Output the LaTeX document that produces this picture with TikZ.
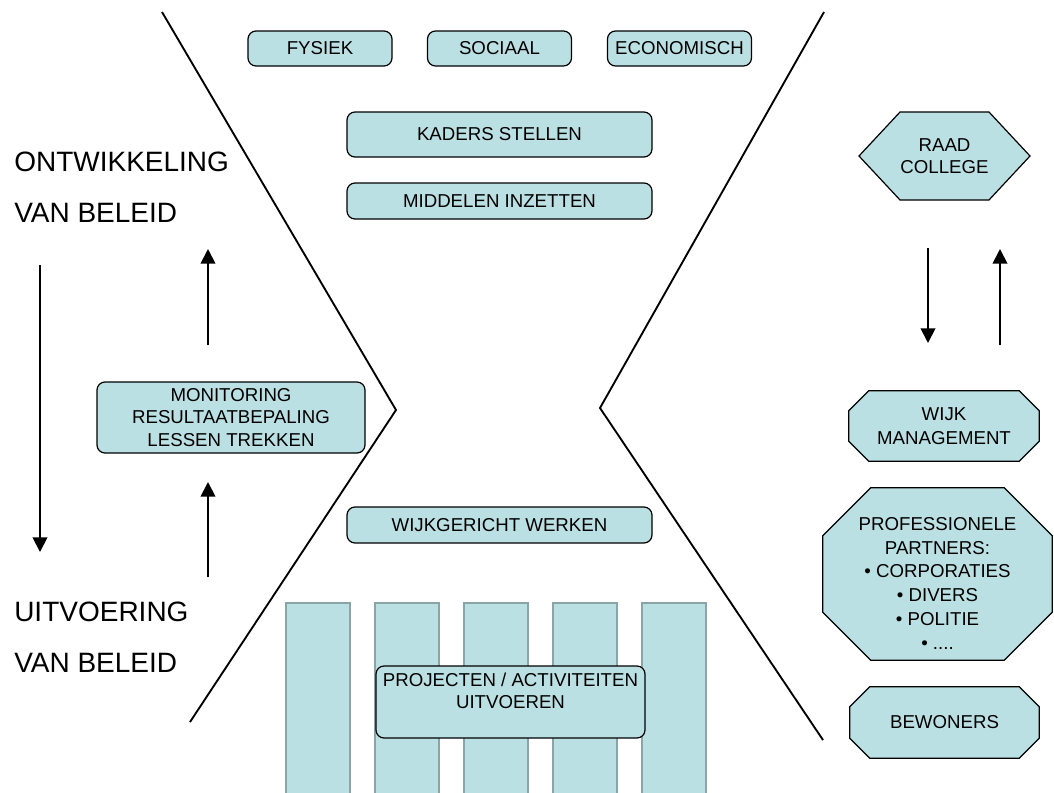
\documentclass[tikz,border=0pt]{standalone}
\usepackage{fontspec}
\setmainfont{Liberation Sans}
\usetikzlibrary{arrows.meta,shapes.symbols,backgrounds}
\definecolor{boxfill}{HTML}{BBE0E3}
\definecolor{colline}{HTML}{8AA4A7}
% achthoek om een node heen
\newcommand\chamfbox[2]{\draw[octline] ([xshift=#2]#1.north west)--([xshift=-#2]#1.north east)--([yshift=-#2]#1.north east)--([yshift=#2]#1.south east)--([xshift=-#2]#1.south east)--([xshift=#2]#1.south west)--([yshift=#2]#1.south west)--([yshift=-#2]#1.north west)--cycle;}
\begin{document}
\begin{tikzpicture}[x=0.75pt,y=-0.75pt,
    box/.style={draw=black,fill=boxfill,rounded corners=6pt,line width=0.9pt,inner sep=0pt,align=center,font=\fontsize{14}{17}\selectfont},
    octtext/.style={inner sep=0pt,align=center,font=\fontsize{14}{17.8}\selectfont},
    octline/.style={draw=black,fill=boxfill,line width=0.9pt},
    pillar/.style={draw=colline,fill=boxfill,line width=2.2pt},
    big/.style={right,inner sep=0pt,font=\fontsize{21}{25}\selectfont},
    arr/.style={line width=1.4pt,-{Triangle[width=11pt,length=11pt]}}]
\useasboundingbox (0,0) rectangle (1054,793);
% zijlijnen
\draw[line width=1.4pt] (162,12)--(396,410)--(190,722);
\draw[line width=1.4pt] (824,12)--(600,408)--(823,740);
% links
\node (ontw) at (14,162)[big]{ONTWIKKELING};
\node (vanb1) at (14,213)[big]{VAN BELEID};
\node (uitv) at (14,612)[big]{UITVOERING};
\node (vanb2) at (14,663)[big]{VAN BELEID};
\node (monitor) at (231,417.5)[box,minimum width=201pt,minimum height=53.25pt]{MONITORING\\RESULTAATBEPALING\\LESSEN TREKKEN};
\coordinate (d1) at (40,265); \coordinate (d2) at (40,552);
\coordinate (u1) at (208,345); \coordinate (u2) at (208,249);
\coordinate (u3) at (208,577); \coordinate (u4) at (208,482);
\draw[arr] (d1)--(d2);
\draw[arr] (u1)--(u2);
\draw[arr] (u3)--(u4);
% midden
\node (fysiek) at (320,48.5)[box,minimum width=108pt,minimum height=26.25pt]{FYSIEK};
\node (sociaal) at (499.5,48.5)[box,minimum width=108pt,minimum height=26.25pt]{SOCIAAL};
\node (econ) at (679.5,48.5)[box,minimum width=108pt,minimum height=26.25pt]{ECONOMISCH};
\node (kaders) at (499.5,134.5)[box,minimum width=228.75pt,minimum height=33.75pt]{KADERS STELLEN};
\node (middelen) at (499.5,201)[box,minimum width=228.75pt,minimum height=27pt]{MIDDELEN INZETTEN};
\node (wijkw) at (499.5,525)[box,minimum width=228.75pt,minimum height=27pt]{WIJKGERICHT WERKEN};
\foreach \x in {286,375,464,553,642}
    \draw[pillar] (\x,603) rectangle ++(64,210);
\node (proj) at (510.5,702)[box,minimum width=201.75pt,minimum height=54pt]{PROJECTEN / ACTIVITEITEN\\UITVOEREN\\ \mbox{}};
% rechts
\node (raad) at (944.5,156)[draw=black,fill=boxfill,signal,signal to=west and east,signal pointer angle=94,line width=0.9pt,inner sep=0pt,align=center,font=\fontsize{14}{17}\selectfont,minimum width=128.25pt,minimum height=66pt]{RAAD\\COLLEGE};
\coordinate (r1) at (928,248); \coordinate (r2) at (928,343);
\coordinate (r3) at (1000,345); \coordinate (r4) at (1000,249);
\draw[arr] (r1)--(r2);
\draw[arr] (r3)--(r4);
\node (wijkm) at (944,426)[octtext,minimum width=142.5pt,minimum height=52.5pt]{WIJK\\MANAGEMENT};
\node (partners) at (937.5,574)[minimum width=171.75pt,minimum height=129pt,inner sep=0pt]{};
\node (partnertekst) at ([yshift=-7pt]partners.center)[octtext]{PROFESSIONELE\\PARTNERS:\\• CORPORATIES\\• DIVERS\\• POLITIE\\• ....};
\node (bewoners) at (944.5,722.5)[octtext,minimum width=141.75pt,minimum height=53.25pt]{BEWONERS};
\begin{scope}[on background layer]
\chamfbox{wijkm}{15pt}
\chamfbox{partners}{36pt}
\chamfbox{bewoners}{15pt}
\end{scope}
\end{tikzpicture}
\end{document}
